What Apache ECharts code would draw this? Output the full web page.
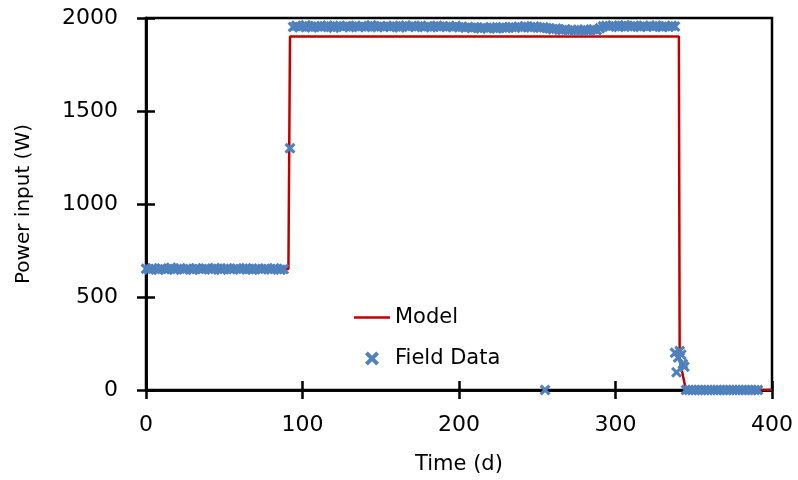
<!DOCTYPE html>
<html><head><meta charset="utf-8">
<script src="https://cdn.jsdelivr.net/npm/echarts@6/dist/echarts.min.js"></script>
<style>html,body{margin:0;padding:0;background:#fff}#c{width:798px;height:480px}</style>
</head><body><div id="c"></div>
<script>
// Model curve [day, W]
var modelPts = [[0,650],[91,650],[92,1900],[340.5,1900],[341,160],[345,0],[400,0]];
// Field data, low-power period (days 0..88, every 2 days)
var lowDays = [0,2,4,6,8,10,12,14,16,18,20,22,24,26,28,30,32,34,36,38,40,42,44,46,48,50,52,54,56,58,60,62,64,66,68,70,72,74,76,78,80,82,84,86,88];
var lowVals = [652,648,655,650,646,653,649,651,657,647,650,654,648,652,650,646,655,651,649,653,650,648,656,652,647,651,654,649,650,653,648,652,655,650,646,651,653,649,652,650,648,654,651,647,650];
// Field data, high-power period (days 94..338, every 2 days)
var highStart = 94;
var highVals = [
1952,1958,1950,1955,1961,1953,1949,1957,1954,1951,
1956,1960,1952,1948,1955,1958,1953,1957,1950,1954,
1959,1952,1956,1951,1955,1961,1954,1950,1957,1953,
1956,1952,1958,1954,1949,1955,1960,1953,1957,1951,
1955,1958,1952,1956,1950,1954,1959,1953,1956,1951,
1955,1952,1957,1950,1953,1948,1951,1946,1950,1947,
1944,1949,1945,1950,1947,1943,1948,1951,1946,1949,
1952,1948,1953,1950,1955,1951,1949,1954,1950,1947,
1950,1946,1943,1940,1944,1938,1935,1940,1933,1937,
1932,1936,1934,1938,1931,1935,1939,1934,1945,1955,
1958,1954,1960,1956,1952,1957,1961,1955,1953,1958,
1956,1952,1959,1954,1957,1953,1960,1955,1951,1956,
1953,1958,1954];
// Isolated / shutdown points
var otherPts = [[92,1300],[255,0],[338,200],[339,95],[340,175],[341,210],[342,190],[343,140],[344,125]];
// Field data after shutdown (days 345..391, every 2 days)
var zeroDays = [345,347,349,351,353,355,357,359,361,363,365,367,369,371,373,375,377,379,381,383,385,387,389,391];
var zeroVals = [0,0,0,0,0,0,0,0,0,0,0,0,0,0,0,0,0,0,0,0,0,0,0,0];
var xTicks = [0,100,200,300,400];
var yTicks = [0,500,1000,1500,2000];

var field = [];
lowDays.forEach(function(d,i){field.push([d,lowVals[i]]);});
highVals.forEach(function(v,i){field.push([highStart+2*i,v]);});
otherPts.forEach(function(p){field.push(p);});
zeroDays.forEach(function(d,i){field.push([d,zeroVals[i]]);});

var X = 'path://M2,0 L5,3 L8,0 L10,2 L7,5 L10,8 L8,10 L5,7 L2,10 L0,8 L3,5 L0,2 Z';
var FONT = 'DejaVu Sans';
var chart = echarts.init(document.getElementById('c'), null, {renderer:'canvas'});
var axLine = {show:true, lineStyle:{color:'#000', width:2.5}};
chart.setOption({
  animation:false,
  textStyle:{fontFamily:FONT},
  grid:{left:146,right:26,top:18,bottom:88,show:true,borderColor:'#000',borderWidth:2.5,backgroundColor:'transparent'},
  legend:{orient:'vertical',left:349,top:302,itemGap:20,itemWidth:36,itemHeight:14,
    textStyle:{fontFamily:FONT,fontSize:21,color:'#000'},
    data:[{name:'Model',icon:'path://M0,0 L36,0 L36,2.5 L0,2.5 Z',itemStyle:{color:'#C00000'}},
          {name:'Field Data'}]},
  xAxis:[
    {type:'value',min:0,max:400,interval:100,position:'bottom',
     name:'Time (d)',nameLocation:'middle',nameGap:64,nameTextStyle:{fontFamily:FONT,fontSize:21,color:'#000'},
     axisLine:axLine,axisTick:{show:true,inside:false,length:9,lineStyle:{color:'#000',width:2.5}},
     axisLabel:{fontFamily:FONT,fontSize:22,color:'#000',margin:24,formatter:function(v){return xTicks.indexOf(v)>=0?String(v):'';}},
     splitLine:{show:false}},
    {type:'value',min:0,max:400,interval:100,position:'bottom',
     axisLine:axLine,axisTick:{show:true,inside:true,length:9,lineStyle:{color:'#000',width:2.5}},
     axisLabel:{show:false},splitLine:{show:false}}
  ],
  yAxis:[
    {type:'value',min:0,max:2000,interval:500,position:'left',
     name:'Power input (W)',nameLocation:'middle',nameGap:112,nameTextStyle:{fontFamily:FONT,fontSize:20,color:'#000'},
     axisLine:axLine,axisTick:{show:true,inside:false,length:9,lineStyle:{color:'#000',width:2.5}},
     axisLabel:{fontFamily:FONT,fontSize:22,color:'#000',margin:28,formatter:function(v){return yTicks.indexOf(v)>=0?String(v):'';}},
     splitLine:{show:false}},
    {type:'value',min:0,max:2000,interval:500,position:'left',
     axisLine:axLine,axisTick:{show:true,inside:true,length:9,lineStyle:{color:'#000',width:2.5}},
     axisLabel:{show:false},splitLine:{show:false}}
  ],
  series:[
    {name:'Model',type:'line',data:modelPts,showSymbol:false,symbol:'none',z:3,
     lineStyle:{color:'#C00000',width:2.5},itemStyle:{color:'#C00000'}},
    {name:'Field Data',type:'scatter',data:field,symbol:X,symbolSize:11,z:4,
     itemStyle:{color:'#4F81BD',opacity:1}}
  ]
});
</script></body></html>
